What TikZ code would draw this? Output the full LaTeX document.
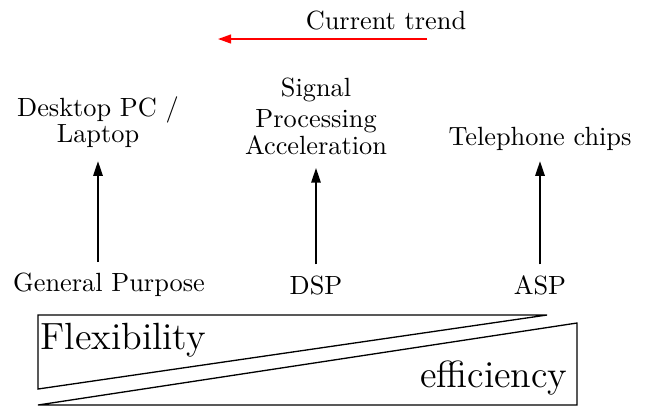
\documentclass[tikz,border=0pt]{standalone}
\usetikzlibrary{arrows.meta}
\begin{document}
\begin{tikzpicture}[x=0.38pt,y=-0.38pt,
  lbl/.style={inner sep=1pt,align=center,font=\normalsize},
  big/.style={inner sep=0pt,font=\Large},
  upar/.style={-{Triangle[length=5.5pt,width=3.6pt]},line width=0.5pt},
  trendar/.style={red,-{Triangle[length=5pt,width=3.4pt]},line width=0.6pt},
  wedge/.style={draw,line width=0.5pt,line join=miter}]
\useasboundingbox (0,0) rectangle (649,406);
% top trend
\node[lbl] (trend) at (386,21) {Current trend};
\coordinate (ta) at (427,39);
\coordinate (tb) at (218,39);
\draw[trendar] (ta) -- (tb);
% application labels
\node[lbl] (desk) at (98,122) {Desktop PC /\\[-2pt]Laptop};
\node[lbl] (sig) at (316,116) {Signal\\Processing\\[-2pt]Acceleration};
\node[lbl] (tel) at (540,139) {Telephone chips};
% processor labels
\node[lbl] (gp) at (109,285) {General Purpose};
\node[lbl] (dsp) at (316,285) {DSP};
\node[lbl] (asp) at (540,285) {ASP};
% arrows
\draw[upar,shorten <=3pt,shorten >=4pt] (desk.south |- gp.north) -- (desk.south);
\draw[upar,shorten <=3pt,shorten >=4pt] (dsp.north) -- (sig.south);
\draw[upar,shorten <=3pt,shorten >=4pt] (asp.north) -- (tel.south |- desk.south);
% wedges
\draw[wedge] (38,315) -- (547,315) -- (38,389) -- cycle;
\draw[wedge] (38,405) -- (577,405) -- (577,323) -- cycle;
\node[big,anchor=west] (flex) at (40,340) {Flexibility};
\node[big,anchor=east] (eff) at (568,378) {efficiency};
\end{tikzpicture}
\end{document}
